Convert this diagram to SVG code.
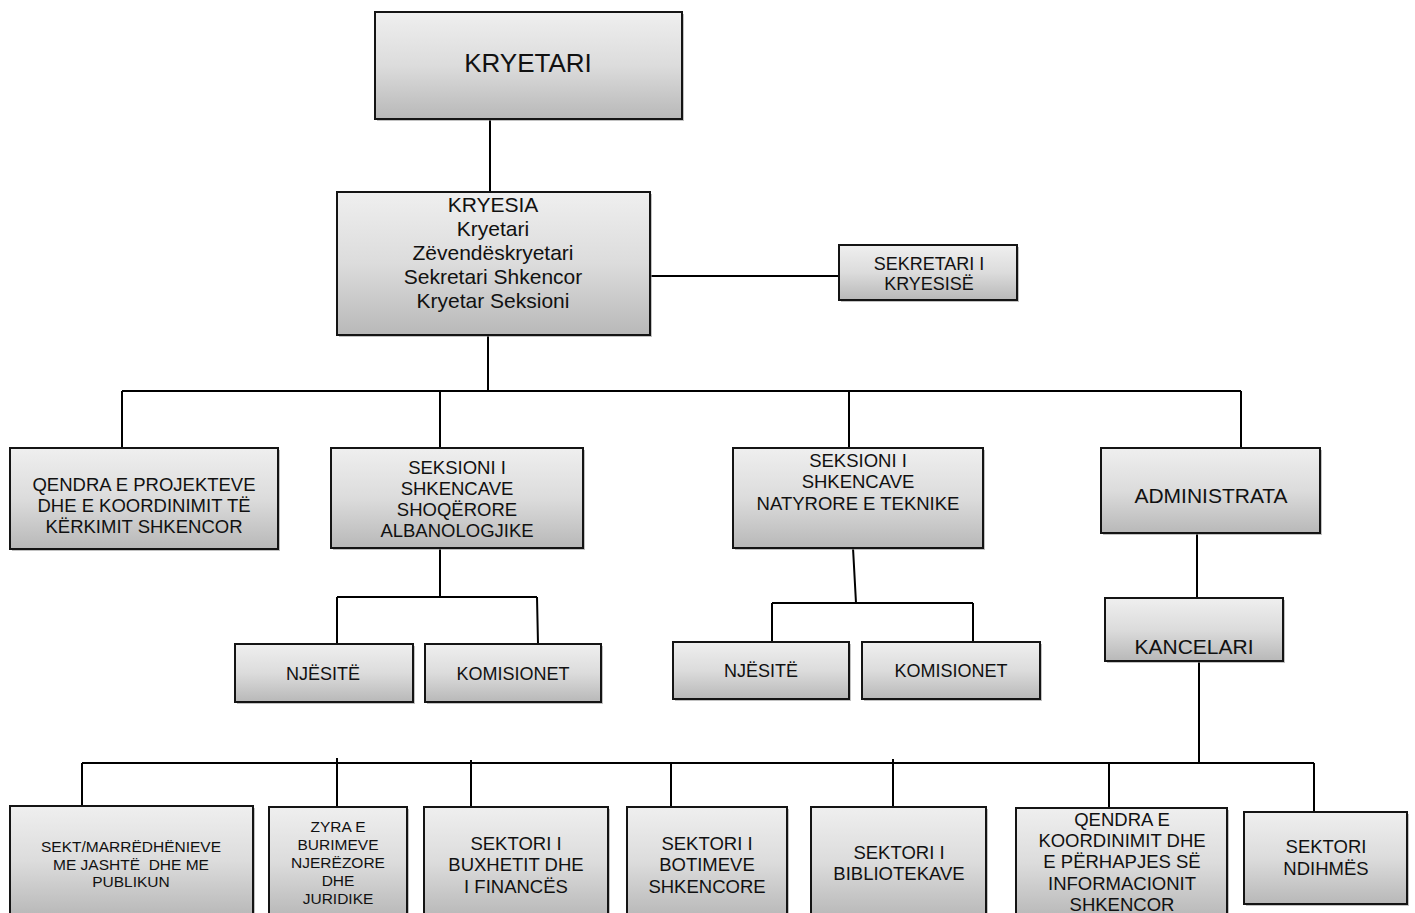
<svg xmlns="http://www.w3.org/2000/svg" width="1415" height="913" viewBox="0 0 1415 913">
<defs>
<linearGradient id="g" x1="0" y1="0" x2="0" y2="1">
<stop offset="0" stop-color="#efefef"/>
<stop offset="0.5" stop-color="#dcdcdc"/>
<stop offset="1" stop-color="#b8b8b8"/>
</linearGradient>
</defs>
<style>
.box{fill:url(#g);stroke:#141414;stroke-width:2}
.sh{fill:#9a9a9a;opacity:0.6}
.t{font-family:"Liberation Sans",Arial,sans-serif;fill:#111;text-anchor:middle}
.c{stroke:#000;stroke-width:2;fill:none}
</style>
<rect width="1415" height="913" fill="#fff"/>
<g id="connectors">
<path class="c" d="M490 119V192"/>
<path class="c" d="M650 276H840"/>
<path class="c" d="M488 335V391"/>
<path class="c" d="M122 391H1241"/>
<path class="c" d="M122 391V448M440 391V448M849 391V448M1241 391V448"/>
<path class="c" d="M440 548V597M337 597H537M337 597V644M537 597L538 644"/>
<path class="c" d="M853 548L856 603M772 603H973M772 603V642M973 603V642"/>
<path class="c" d="M1197 533V598"/>
<path class="c" d="M1199 661V763"/>
<path class="c" d="M82 763H1314"/>
<path class="c" d="M82 763V806M337 758V806M471 760V806M671 763V806M893 759V806M1109 763V808M1314 763V812"/>
</g>
<g id="kryetari">
<rect class="sh" x="377" y="14" width="307" height="107"/>
<rect class="box" x="375" y="12" width="307" height="107"/>
<text class="t" x="528" y="72" font-size="26">KRYETARI</text>
</g>
<g id="kryesia">
<rect class="sh" x="339" y="194" width="313" height="143"/>
<rect class="box" x="337" y="192" width="313" height="143"/>
<text class="t" font-size="21"><tspan x="493" y="212">KRYESIA</tspan><tspan x="493" y="236">Kryetari</tspan><tspan x="493" y="260">Zëvendëskryetari</tspan><tspan x="493" y="284">Sekretari Shkencor</tspan><tspan x="493" y="308">Kryetar Seksioni</tspan></text>
</g>
<g id="sekretari">
<rect class="sh" x="841" y="247" width="178" height="55"/>
<rect class="box" x="839" y="245" width="178" height="55"/>
<text class="t" font-size="18"><tspan x="929" y="270">SEKRETARI I</tspan><tspan x="929" y="290">KRYESISË</tspan></text>
</g>
<g id="qendra-projekteve">
<rect class="sh" x="12" y="450" width="268" height="101"/>
<rect class="box" x="10" y="448" width="268" height="101"/>
<text class="t" font-size="18.5"><tspan x="144" y="491">QENDRA E PROJEKTEVE</tspan><tspan x="144" y="512">DHE E KOORDINIMIT TË</tspan><tspan x="144" y="533">KËRKIMIT SHKENCOR</tspan></text>
</g>
<g id="seksioni-shoqerore">
<rect class="sh" x="333" y="450" width="252" height="100"/>
<rect class="box" x="331" y="448" width="252" height="100"/>
<text class="t" font-size="18.5"><tspan x="457" y="474">SEKSIONI I</tspan><tspan x="457" y="495">SHKENCAVE</tspan><tspan x="457" y="516">SHOQËRORE</tspan><tspan x="457" y="537">ALBANOLOGJIKE</tspan></text>
</g>
<g id="seksioni-natyrore">
<rect class="sh" x="735" y="450" width="250" height="100"/>
<rect class="box" x="733" y="448" width="250" height="100"/>
<text class="t" font-size="18.5"><tspan x="858" y="467">SEKSIONI I</tspan><tspan x="858" y="488">SHKENCAVE</tspan><tspan x="858" y="510">NATYRORE E TEKNIKE</tspan></text>
</g>
<g id="administrata">
<rect class="sh" x="1103" y="450" width="219" height="85"/>
<rect class="box" x="1101" y="448" width="219" height="85"/>
<text class="t" x="1211" y="503" font-size="21">ADMINISTRATA</text>
</g>
<g id="njesite-1">
<rect class="sh" x="237" y="646" width="178" height="58"/>
<rect class="box" x="235" y="644" width="178" height="58"/>
<text class="t" x="323" y="680" font-size="18">NJËSITË</text>
</g>
<g id="komisionet-1">
<rect class="sh" x="427" y="646" width="176" height="58"/>
<rect class="box" x="425" y="644" width="176" height="58"/>
<text class="t" x="513" y="680" font-size="18">KOMISIONET</text>
</g>
<g id="njesite-2">
<rect class="sh" x="675" y="644" width="176" height="57"/>
<rect class="box" x="673" y="642" width="176" height="57"/>
<text class="t" x="761" y="677" font-size="18">NJËSITË</text>
</g>
<g id="komisionet-2">
<rect class="sh" x="864" y="644" width="178" height="57"/>
<rect class="box" x="862" y="642" width="178" height="57"/>
<text class="t" x="951" y="677" font-size="18">KOMISIONET</text>
</g>
<g id="kancelari">
<rect class="sh" x="1107" y="600" width="178" height="63"/>
<rect class="box" x="1105" y="598" width="178" height="63"/>
<text class="t" x="1194" y="654" font-size="21">KANCELARI</text>
</g>
<g id="sekt-marredhenieve">
<rect class="sh" x="12" y="808" width="243" height="110"/>
<rect class="box" x="10" y="806" width="243" height="110"/>
<text class="t" font-size="15.5"><tspan x="131" y="852">SEKT/MARRËDHËNIEVE</tspan><tspan x="131" y="870">ME JASHTË&#160; DHE ME</tspan><tspan x="131" y="887">PUBLIKUN</tspan></text>
</g>
<g id="zyra-burimeve">
<rect class="sh" x="271" y="809" width="138" height="110"/>
<rect class="box" x="269" y="807" width="138" height="110"/>
<text class="t" font-size="15.5"><tspan x="338" y="832">ZYRA E</tspan><tspan x="338" y="850">BURIMEVE</tspan><tspan x="338" y="868">NJERËZORE</tspan><tspan x="338" y="886">DHE</tspan><tspan x="338" y="904">JURIDIKE</tspan></text>
</g>
<g id="sektori-buxhetit">
<rect class="sh" x="426" y="809" width="184" height="110"/>
<rect class="box" x="424" y="807" width="184" height="110"/>
<text class="t" font-size="18.5"><tspan x="516" y="850">SEKTORI I</tspan><tspan x="516" y="871">BUXHETIT DHE</tspan><tspan x="516" y="893">I FINANCËS</tspan></text>
</g>
<g id="sektori-botimeve">
<rect class="sh" x="629" y="809" width="160" height="110"/>
<rect class="box" x="627" y="807" width="160" height="110"/>
<text class="t" font-size="18.5"><tspan x="707" y="850">SEKTORI I</tspan><tspan x="707" y="871">BOTIMEVE</tspan><tspan x="707" y="893">SHKENCORE</tspan></text>
</g>
<g id="sektori-bibliotekave">
<rect class="sh" x="813" y="809" width="175" height="110"/>
<rect class="box" x="811" y="807" width="175" height="110"/>
<text class="t" font-size="18.5"><tspan x="899" y="859">SEKTORI I</tspan><tspan x="899" y="880">BIBLIOTEKAVE</tspan></text>
</g>
<g id="qendra-koordinimit">
<rect class="sh" x="1018" y="810" width="211" height="110"/>
<rect class="box" x="1016" y="808" width="211" height="110"/>
<text class="t" font-size="18.5"><tspan x="1122" y="826">QENDRA E</tspan><tspan x="1122" y="847">KOORDINIMIT DHE</tspan><tspan x="1122" y="868">E PËRHAPJES SË</tspan><tspan x="1122" y="890">INFORMACIONIT</tspan><tspan x="1122" y="911">SHKENCOR</tspan></text>
</g>
<g id="sektori-ndihmes">
<rect class="sh" x="1246" y="814" width="163" height="92"/>
<rect class="box" x="1244" y="812" width="163" height="92"/>
<text class="t" font-size="18.5"><tspan x="1326" y="853">SEKTORI</tspan><tspan x="1326" y="875">NDIHMËS</tspan></text>
</g>
</svg>
